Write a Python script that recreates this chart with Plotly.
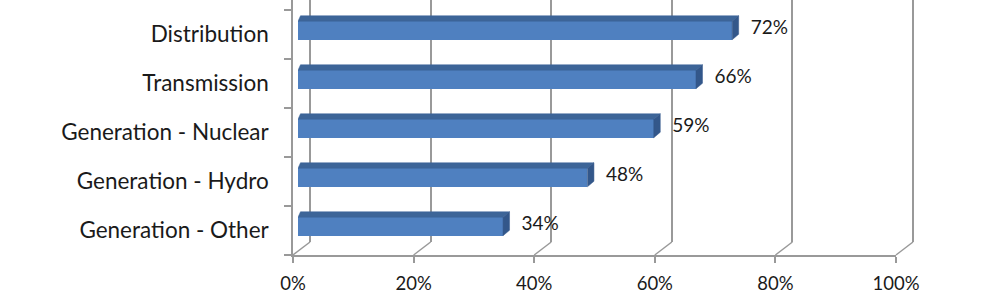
import plotly.graph_objects as go

# ---- data ----
categories = ["Generation - Other", "Generation - Hydro", "Generation - Nuclear",
              "Transmission", "Distribution"]          # bottom -> top
values = [34, 48, 59, 66, 72]
value_labels = ["34%", "48%", "59%", "66%", "72%"]
tick_vals = [0, 20, 40, 60, 80, 100]
tick_text = ["0%", "20%", "40%", "60%", "80%", "100%"]

# ---- geometry (pixels) ----
W, H = 1001, 300
L, R, T, B = 293, 80, 0, 45
PW, PH = W - L - R, H - T - B          # 628 x 255
FRONT_W = 603                          # front axis length in px (0..100%)
WALL_DX, WALL_DY = 17, 13              # back-wall offset
BAR_DX, BAR_DY = 5, 4                  # bar front-face offset from front axis
CAT_PX = 49                            # px per category
BAR_H_PX = 18.5                        # front face height
TOP_DY = 5.5                           # depth shift (up)
TOP_DXL, TOP_DXR = 2.5, 6.5            # depth shift (right) at left / right end
LABEL_GAP = 12
LABEL_UP = 1.5

grid_col = "#999999"
font_fam = "Lato, 'Open Sans', sans-serif"
front_col = "#4F80C0"
top_col = "#3D6598"
side_col = "#33578A"

pxu = FRONT_W / 100.0
n = len(categories)
y_lo = -0.5
y_hi_front = y_lo + PH / CAT_PX
bar_dom_y0 = BAR_DY / PH
y_hi_bar = y_lo + (PH - BAR_DY) / CAT_PX
wall_range = [-WALL_DX / pxu, (PW - WALL_DX) / pxu]

fig = go.Figure()

# back wall subplot (x / y): only gridlines
fig.add_trace(go.Scatter(x=[0, 100], y=[0, 1], mode="markers",
                         marker=dict(opacity=0), hoverinfo="skip",
                         showlegend=False, xaxis="x", yaxis="y"))

# front axes subplot (x2 / y2): invisible helper to create category axis
fig.add_trace(go.Scatter(x=[0] * n, y=categories, mode="markers",
                         marker=dict(opacity=0), hoverinfo="skip",
                         showlegend=False, xaxis="x2", yaxis="y2"))

# bars (x3 / y3)
idx = list(range(n))
hb = BAR_H_PX / CAT_PX / 2
dy_u = TOP_DY / CAT_PX
dxl = TOP_DXL / pxu
dxr = TOP_DXR / pxu
for i, v in enumerate(values):
    # top face
    fig.add_trace(go.Scatter(
        x=[0, v, v + dxr, dxl, 0],
        y=[i + hb, i + hb, i + hb + dy_u, i + hb + dy_u, i + hb],
        fill="toself", fillcolor=top_col, mode="lines",
        line=dict(color=top_col, width=0.5), hoverinfo="skip",
        showlegend=False, xaxis="x3", yaxis="y3"))
    # side face
    fig.add_trace(go.Scatter(
        x=[v, v + dxr, v + dxr, v, v],
        y=[i + hb, i + hb + dy_u, i - hb + dy_u, i - hb, i + hb],
        fill="toself", fillcolor=side_col, mode="lines",
        line=dict(color=side_col, width=0.5), hoverinfo="skip",
        showlegend=False, xaxis="x3", yaxis="y3"))

fig.add_trace(go.Bar(
    x=values, y=idx, orientation="h", width=BAR_H_PX / CAT_PX,
    marker=dict(color=front_col, line=dict(width=0)),
    textposition="none", hoverinfo="skip",
    showlegend=False, xaxis="x3", yaxis="y3"))

# value labels
fig.add_trace(go.Scatter(
    x=[v + (TOP_DXR + LABEL_GAP) / pxu for v in values],
    y=[i + LABEL_UP / CAT_PX for i in idx],
    mode="text", text=value_labels, textposition="middle right",
    textfont=dict(family=font_fam, size=19, color="#1a1a1a"),
    hoverinfo="skip", showlegend=False, xaxis="x3", yaxis="y3"))

# diagonal floor lines connecting front ticks to back-wall gridlines
shapes = []
for tv in tick_vals:
    shapes.append(dict(type="line", xref="x", yref="paper",
                       x0=tv - WALL_DX / pxu, y0=0, x1=tv, y1=WALL_DY / PH,
                       line=dict(color=grid_col, width=1.5), layer="below"))

fig.update_layout(
    width=W, height=H,
    margin=dict(l=L, r=R, t=T, b=B, pad=0),
    paper_bgcolor="white", plot_bgcolor="rgba(0,0,0,0)",
    shapes=shapes,
    bargap=0,
    xaxis=dict(domain=[0, 1], range=wall_range, anchor="y",
               showgrid=True, gridcolor=grid_col, gridwidth=1.5,
               tickvals=tick_vals, showticklabels=False, ticks="",
               zeroline=False, showline=False, fixedrange=True),
    yaxis=dict(domain=[WALL_DY / PH, 1], range=[0, 1], anchor="x",
               showgrid=False, showticklabels=False, zeroline=False,
               showline=False, ticks="", fixedrange=True),
    xaxis2=dict(domain=[0, FRONT_W / PW], range=[0, 100], anchor="y2",
                tickvals=tick_vals, ticktext=tick_text,
                ticks="outside", ticklen=6, tickcolor=grid_col, tickwidth=1.5,
                showline=True, linecolor=grid_col, linewidth=1.5,
                showgrid=False, zeroline=False, ticklabelstandoff=5,
                tickfont=dict(family=font_fam, size=18.5, color="#1a1a1a"),
                fixedrange=True),
    yaxis2=dict(domain=[0, 1], anchor="x2", type="category",
                categoryorder="array", categoryarray=categories,
                range=[y_lo, y_hi_front],
                tickson="boundaries", ticks="outside", ticklen=7,
                tickcolor=grid_col, tickwidth=1.5,
                showline=True, linecolor=grid_col, linewidth=1.5,
                showgrid=False, zeroline=False, ticklabelstandoff=18,
                tickfont=dict(family=font_fam, size=22.5, color="#1a1a1a"),
                fixedrange=True),
    xaxis3=dict(domain=[BAR_DX / PW, (BAR_DX + FRONT_W) / PW], range=[0, 100],
                anchor="y3", visible=False, fixedrange=True),
    yaxis3=dict(domain=[bar_dom_y0, 1], range=[y_lo, y_hi_bar], anchor="x3",
                visible=False, fixedrange=True),
)

fig.write_html("out.html")
